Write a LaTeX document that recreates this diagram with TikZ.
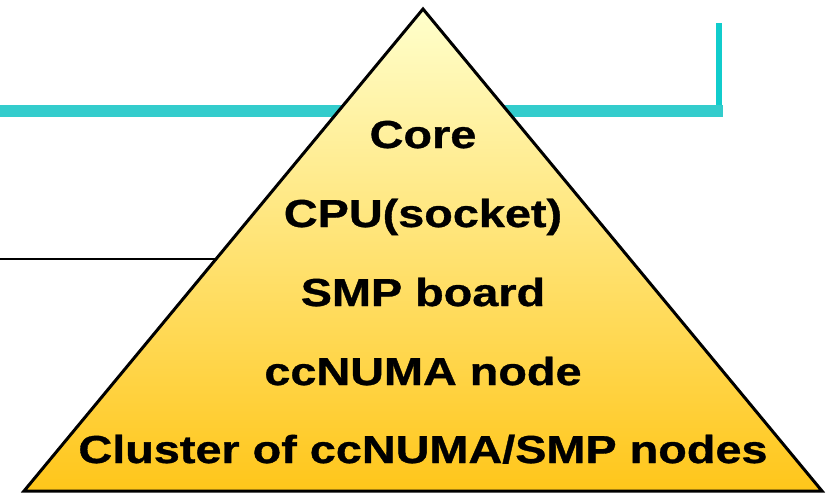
\documentclass[tikz,border=0pt]{standalone}
\usepackage{fontspec}
\usepackage{graphicx}
\setmainfont{Liberation Sans}
\newfontfamily\heavyfont[FakeBold=0.8]{Liberation Sans Bold}
\definecolor{tealA}{HTML}{33CCCC}
\definecolor{tealB}{HTML}{11CCCC}
\definecolor{topY}{HTML}{FFFFCC}
\definecolor{botY}{HTML}{FFC61A}
\newcommand{\lvl}[1]{\scalebox{1.2}[1]{\heavyfont\fontsize{39}{41}\selectfont #1}}
\tikzset{lvltext/.style={anchor=base, inner sep=0pt, text=black}}
\begin{document}
\begin{tikzpicture}[x=1pt,y=-1pt]
\useasboundingbox (0,0) rectangle (826,493);
% decorative lines behind the pyramid
\draw[tealB, line width=6pt] (719,23) -- (719,111);
\draw[tealA, line width=12pt] (0,111) -- (723,111);
\draw[black, line width=2.5pt] (0,259) -- (300,259);
% pyramid
\shade[top color=topY, bottom color=botY, shading angle=0] (423,9) -- (822,491) -- (24,491) -- cycle;
\draw[black, line width=3pt, line join=miter] (423,9) -- (822,491) -- (24,491) -- cycle;
% labels
\node[lvltext] (core) at (423,148) {\lvl{Core}};
\node[lvltext] (cpu) at (423,227) {\lvl{CPU(socket)}};
\node[lvltext] (smp) at (423,306) {\lvl{SMP board}};
\node[lvltext] (numa) at (423,385) {\lvl{ccNUMA node}};
\node[lvltext] (cluster) at (423,463) {\lvl{Cluster of ccNUMA/SMP nodes}};
\end{tikzpicture}
\end{document}
